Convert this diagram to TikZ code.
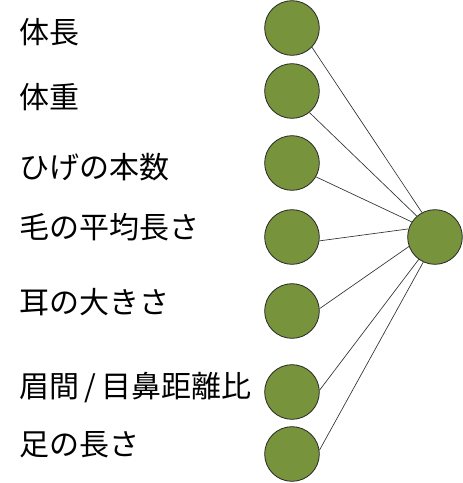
\documentclass[tikz,border=0pt]{standalone}
\usepackage{fontspec}
\newfontfamily\jpfont{Noto Sans CJK JP}
\usetikzlibrary{positioning}
\definecolor{unitgreen}{RGB}{119,147,60}

\begin{document}
\begin{tikzpicture}[x=0.75pt,y=-0.75pt,
  unit/.style={circle,draw=black!85,line width=0.6pt,fill=unitgreen,minimum size=41pt,inner sep=0pt},
  feat/.style={anchor=west,inner sep=0pt,font=\jpfont\fontsize{22.5}{23}\selectfont}]
\useasboundingbox (0,0) rectangle (463,483);

% input units
\node[unit] (u1) at (292,28) {};
\node[unit] (u2) at (292,91) {};
\node[unit] (u3) at (292,163) {};
\node[unit] (u4) at (292,237) {};
\node[unit] (u5) at (292,311) {};
\node[unit] (u6) at (292,392) {};
\node[unit] (u7) at (292,454) {};
% output unit
\node[unit] (out) at (435,237) {};

% features
\node[feat] (f1) at (19,32) {体長};
\node[feat] (f2) at (19,97) {体重};
\node[feat] (f3) at (19,167) {ひげの本数};
\node[feat] (f4) at (19,227) {毛の平均長さ};
\node[feat] (f5) at (19,302) {耳の大きさ};
\node[feat] (f6) at (19,388) {眉間\kern4pt/\kern4pt目鼻距離比};
\node[feat] (f7) at (19,445) {足の長さ};

\draw[black!80,line width=0.5pt] (u1.-44) edge (out.118)
            (u2.-51) edge (out.131)
            (u3.-30) edge (out.147)
            (u4.-8) edge (out.163)
            (u5.5) edge (out.-160)
            (u6.4) edge (out.-126)
            (u7.8) edge (out.-115);

\end{tikzpicture}
\end{document}
